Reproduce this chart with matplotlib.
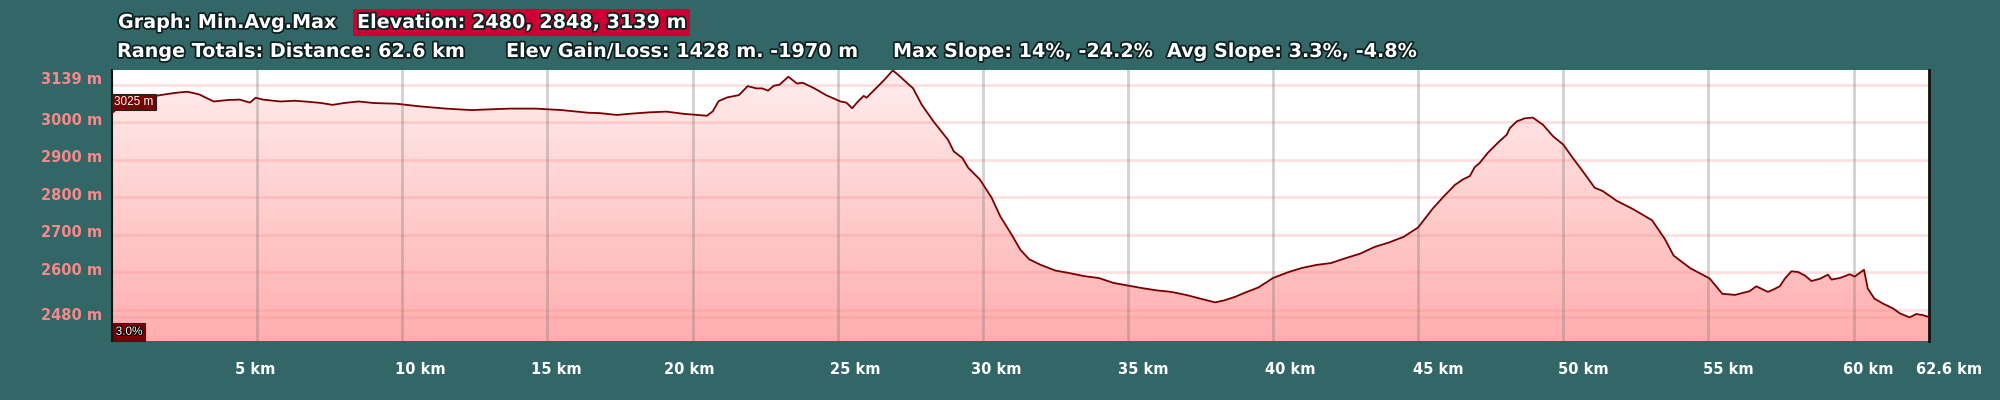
import numpy as np
import matplotlib
matplotlib.use("Agg")
import matplotlib.pyplot as plt
import matplotlib.transforms as mtransforms
import matplotlib.patheffects as pe
from matplotlib.colors import LinearSegmentedColormap

# ---------------- data ----------------
dist_km = [0.0, 0.3, 0.7, 1.0, 1.5, 2.0, 2.3, 2.6, 3.0, 3.5, 4.0, 4.4, 4.75, 4.95, 5.2, 5.8, 6.3, 6.8,
           7.2, 7.6, 8.0, 8.5, 9.0, 9.8, 10.6, 11.5, 12.4, 13.0, 13.7, 14.6, 15.5, 16.4, 16.8, 17.4,
           17.8, 18.5, 19.1, 19.7, 20.2, 20.5, 20.7, 20.9, 21.2, 21.4, 21.6, 21.9, 22.2, 22.4, 22.6,
           22.8, 23.0, 23.3, 23.6, 23.8, 24.2, 24.6, 25.1, 25.3, 25.5, 25.7, 25.9, 26.0, 26.2, 26.6,
           26.9, 27.1, 27.6, 27.9, 28.3, 28.8, 29.0, 29.3, 29.5, 29.9, 30.3, 30.6, 31.0, 31.3, 31.6,
           32.0, 32.5, 33.0, 33.5, 34.0, 34.5, 35.0, 35.5, 36.0, 36.5, 37.0, 37.5, 38.0, 38.3, 38.7,
           39.0, 39.5, 40.0, 40.5, 41.0, 41.5, 42.0, 42.5, 43.0, 43.5, 44.0, 44.5, 45.0, 45.5, 45.85,
           46.26, 46.54, 46.78, 46.95, 47.12, 47.4, 47.8, 48.05, 48.16, 48.4, 48.67, 48.95, 49.3,
           49.65, 50.0, 50.33, 50.67, 51.08, 51.36, 51.84, 52.4, 53.06, 53.5, 53.8, 54.38, 55.04,
           55.48, 55.92, 56.42, 56.65, 57.05, 57.23, 57.46, 57.63, 57.86, 58.09, 58.32, 58.55, 58.84,
           59.12, 59.24, 59.53, 59.87, 60.04, 60.2, 60.36, 60.49, 60.72, 61.01, 61.36, 61.59, 61.93,
           62.16, 62.39, 62.6]
elev_m = [3025, 3045, 3062, 3068, 3071, 3077, 3080, 3082, 3075, 3056, 3060, 3061, 3053, 3066, 3061,
          3056, 3058, 3055, 3052, 3047, 3052, 3056, 3052, 3050, 3043, 3037, 3033, 3035, 3037, 3037,
          3033, 3026, 3025, 3020, 3023, 3027, 3029, 3023, 3020, 3018, 3030, 3057, 3067, 3070, 3073,
          3097, 3091, 3091, 3085, 3098, 3101, 3122, 3104, 3106, 3091, 3073, 3056, 3053, 3038, 3056,
          3071, 3066, 3082, 3113, 3139, 3126, 3091, 3047, 3003, 2954, 2923, 2905, 2879, 2848, 2800,
          2750, 2700, 2660, 2635, 2620, 2605, 2598, 2590, 2585, 2572, 2565, 2558, 2552, 2548, 2540,
          2530, 2520, 2525, 2535, 2545, 2560, 2585, 2600, 2612, 2620, 2625, 2638, 2650, 2668, 2680,
          2695, 2720, 2770, 2800, 2833, 2848, 2857, 2881, 2892, 2919, 2950, 2967, 2985, 3003, 3011,
          3013, 2994, 2963, 2941, 2905, 2870, 2826, 2817, 2791, 2769, 2739, 2689, 2645, 2611, 2584,
          2543, 2540, 2550, 2563, 2548, 2554, 2563, 2583, 2603, 2601, 2592, 2577, 2583, 2594, 2581,
          2585, 2595, 2589, 2598, 2607, 2557, 2530, 2517, 2504, 2491, 2480, 2489, 2486, 2481]

x_ticks_km = [5, 10, 15, 20, 25, 30, 35, 40, 45, 50, 55, 60, 62.6]
x_tick_labels = ["5 km", "10 km", "15 km", "20 km", "25 km", "30 km", "35 km", "40 km",
                 "45 km", "50 km", "55 km", "60 km", "62.6 km"]
y_label_vals = [3139, 3000, 2900, 2800, 2700, 2600, 2480]
y_label_text = ["3139 m", "3000 m", "2900 m", "2800 m", "2700 m", "2600 m", "2480 m"]
y_grid_vals = [3100, 3000, 2900, 2800, 2700, 2600, 2500, 2480]
x_grid_vals = [5, 10, 15, 20, 25, 30, 35, 40, 45, 50, 55, 60]

header1_left = "Graph: Min.Avg.Max"
header1_box = "Elevation: 2480, 2848, 3139 m"
header2_parts = ["Range Totals: Distance: 62.6 km", "Elev Gain/Loss: 1428 m. -1970 m",
                 "Max Slope: 14%, -24.2%", "Avg Slope: 3.3%, -4.8%"]
start_label = "3025 m"
slope_label = "3.0%"

# ---------------- style ----------------
BG = "#336666"
LINE = "#7a0000"
FONT = "DejaVu Sans"
W, H = 2000, 400
# pixel nudges of the x labels (layout only)
x_label_nudge_px = [-2, 18, 9, -3, 18, 13, 15, 17, 20, 20, 20, 15, 20]

fig = plt.figure(figsize=(20, 4), dpi=100, facecolor=BG)
ax = fig.add_axes([112 / W, 1 - 341 / H, (1929 - 112) / W, (341 - 70) / H])
ax.set_facecolor("white")
ymin, ymax = 2417, 3140
ax.set_xlim(0, 62.6)
ax.set_ylim(ymin, ymax)

x = np.array(dist_km)
y = np.array(elev_m)

# gradient fill under the curve
poly = ax.fill_between(x, y, ymin, color="none", lw=0)
cmap = LinearSegmentedColormap.from_list("g", ["#ffaeae", "#ffeeee"])
grad = np.linspace(0, 1, 256).reshape(-1, 1)
im = ax.imshow(grad, extent=[0, 62.6, ymin, ymax], origin="lower", aspect="auto",
               cmap=cmap, zorder=1)
im.set_clip_path(poly.get_paths()[0], transform=ax.transData)

# grid lines
for g in y_grid_vals:
    ax.axhline(g, color=(1.0, 0.55, 0.55), alpha=0.28, lw=2, zorder=2)
for g in x_grid_vals:
    ax.axvline(g, color=(0.45, 0.45, 0.45), alpha=0.32, lw=2, zorder=2)

ax.plot(x, y, color=LINE, lw=1.3, zorder=4, solid_joinstyle="round")

# spines
for s in ["top", "bottom"]:
    ax.spines[s].set_visible(False)
ax.spines["left"].set_color("#111111")
ax.spines["left"].set_linewidth(1.5)
ax.spines["right"].set_color("#111111")
ax.spines["right"].set_linewidth(2)
ax.set_xticks([])
ax.set_yticks([])

# y labels
ytrans = mtransforms.blended_transform_factory(fig.transFigure, ax.transData)
for v, t in zip(y_label_vals, y_label_text):
    dy = -9 if v == max(y_label_vals) else 2
    tr = ytrans + mtransforms.ScaledTranslation(0, dy / 100, fig.dpi_scale_trans)
    fig.text(102 / W, v, t, transform=tr, ha="right", va="center", color="#f48a8a",
             fontsize=10.5, fontweight="bold", family=FONT)

# x labels
xtrans = mtransforms.blended_transform_factory(ax.transData, fig.transFigure)
for v, t, n in zip(x_ticks_km, x_tick_labels, x_label_nudge_px):
    tr = xtrans + mtransforms.ScaledTranslation(n / 100, 0, fig.dpi_scale_trans)
    fig.text(v, 1 - 370 / H, t, transform=tr, ha="center", va="center", color="white",
             fontsize=10.5, fontweight="bold", family=FONT)

# header
stroke = [pe.withStroke(linewidth=2.5, foreground="#0d2020")]
HFS = 13.8
fig.text(118 / W, 1 - 28 / H, header1_left, ha="left", va="baseline", color="white",
         fontsize=HFS, fontweight="bold", family=FONT, path_effects=stroke)
fig.text(357 / W, 1 - 28 / H, header1_box, ha="left", va="baseline", color="white",
         fontsize=HFS, fontweight="bold", family=FONT, path_effects=stroke,
         bbox=dict(boxstyle="square,pad=0.2", fc="#cc0033", ec="none"))
header2_x = [117, 506, 893, 1167]
for px, t in zip(header2_x, header2_parts):
    fig.text(px / W, 1 - 57 / H, t, ha="left", va="baseline", color="white",
             fontsize=HFS, fontweight="bold", family=FONT, path_effects=stroke)

# annotation boxes
start_tr = ax.transData + mtransforms.ScaledTranslation(0.02, 0.05, fig.dpi_scale_trans)
ax.text(0.0, elev_m[0], start_label, transform=start_tr, ha="left",
        va="bottom", color="white", fontsize=8.5, family="Liberation Sans", zorder=6,
        bbox=dict(boxstyle="square,pad=0.2", fc="#7a0000", ec="#222222", lw=0.8))
ax.text(0.002, 0.012, slope_label, transform=ax.transAxes, ha="left", va="bottom",
        color="white", fontsize=8.5, family="Liberation Sans", zorder=6,
        path_effects=[pe.withStroke(linewidth=1.5, foreground="black")],
        bbox=dict(boxstyle="square,pad=0.25", fc="#7a0000", ec="#222222", lw=0.8))

fig.savefig("out.png", dpi=100, facecolor=BG)
